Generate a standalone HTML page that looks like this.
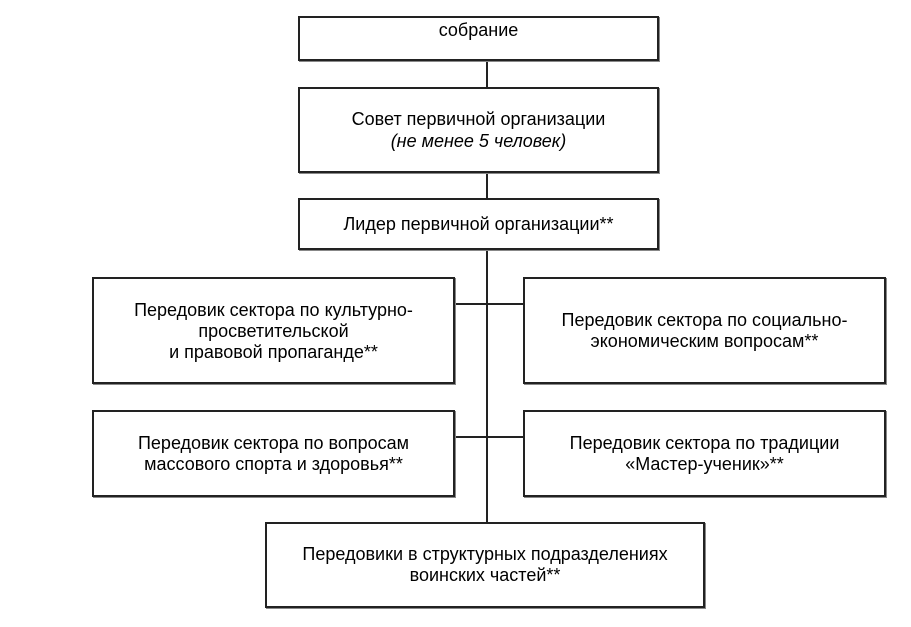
<!DOCTYPE html>
<html><head><meta charset="utf-8"><style>
body{margin:0;width:911px;height:627px;background:#fff;position:relative;overflow:hidden;font-family:"Liberation Sans",Arial,sans-serif;color:#000}
.b{position:absolute;border:2px solid #222;box-sizing:border-box;display:flex;align-items:center;justify-content:center;text-align:center;font-size:18px;line-height:21px;box-shadow:1px 1px 0 #888;background:#fff}
.b>div{display:block}
.l{position:absolute;background:#222}
</style></head><body>
<div class="l" style="left:486px;top:60px;width:2px;height:463px"></div>
<div class="l" style="left:455px;top:303px;width:69px;height:2px"></div>
<div class="l" style="left:455px;top:436px;width:69px;height:2px"></div>
<div class="b" style="left:298px;top:16px;width:361px;height:45px;align-items:flex-start;padding-top:2px"><div>собрание</div></div>
<div class="b" style="left:298px;top:87px;width:361px;height:86px;line-height:22px"><div>Совет первичной организации<br><i>(не менее 5 человек)</i></div></div>
<div class="b" style="left:298px;top:198px;width:361px;height:52px"><div>Лидер первичной организации**</div></div>
<div class="b" style="left:92px;top:277px;width:363px;height:107px;padding-top:2px"><div>Передовик сектора по культурно-<br>просветительской<br>и правовой пропаганде**</div></div>
<div class="b" style="left:523px;top:277px;width:363px;height:107px"><div>Передовик сектора по социально-<br>экономическим вопросам**</div></div>
<div class="b" style="left:92px;top:410px;width:363px;height:87px"><div>Передовик сектора по вопросам<br>массового спорта и здоровья**</div></div>
<div class="b" style="left:523px;top:410px;width:363px;height:87px"><div>Передовик сектора по традиции<br>«Мастер-ученик»**</div></div>
<div class="b" style="left:265px;top:522px;width:440px;height:86px"><div>Передовики в структурных подразделениях<br>воинских частей**</div></div>
</body></html>
